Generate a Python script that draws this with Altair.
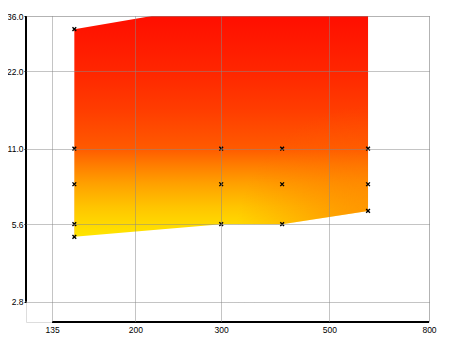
import altair as alt
import pandas as pd

# Axis tick values
x_ticks = [135, 200, 300, 500, 800]
y_ticks = [2.8, 5.6, 11.0, 22.0, 36.0]

# Measured points (x markers)
pt_x = [150, 150, 150, 150, 150, 300, 300, 300, 400, 400, 400, 600, 600, 600]
pt_y = [32, 11, 8, 5.6, 5, 11, 8, 5.6, 11, 8, 5.6, 11, 8, 6.3]

# Outline of the filled surface (lower / upper hull, upper part clipped at 36)
edge_x = [150, 300, 400, 600]
edge_low = [5, 5.6, 5.6, 6.3]
edge_high = [32, 40, 40, 40]

W, H = 403, 306
FONT = "Liberation Sans"

xs = alt.Scale(type="log", domain=[119.4, 800], nice=False)
ys = alt.Scale(type="log", domain=[2.335, 36], nice=False)

pts = pd.DataFrame({"x": pt_x, "y": pt_y})
edge = pd.DataFrame({"x": edge_x, "lo": edge_low, "hi": edge_high})

vgrad = alt.LinearGradient(
    gradient="linear", x1=0, y1=0, x2=0, y2=1,
    stops=[
        alt.GradientStop(color="#FF0A00", offset=0.0),
        alt.GradientStop(color="#FF0E00", offset=0.05),
        alt.GradientStop(color="#FF2600", offset=0.29),
        alt.GradientStop(color="#FF3C00", offset=0.45),
        alt.GradientStop(color="#FF5A00", offset=0.62),
        alt.GradientStop(color="#FF7C00", offset=0.69),
        alt.GradientStop(color="#FFA000", offset=0.77),
        alt.GradientStop(color="#FFC400", offset=0.87),
        alt.GradientStop(color="#FFD800", offset=0.943),
        alt.GradientStop(color="#FFE600", offset=1.0),
    ],
)
rgrad = alt.RadialGradient(
    gradient="radial", x1=1, y1=0.9, r1=0, x2=1, y2=0.9, r2=0.45,
    stops=[
        alt.GradientStop(color="rgba(255,100,0,0.6)", offset=0.0),
        alt.GradientStop(color="rgba(255,100,0,0)", offset=1.0),
    ],
)

common = dict(title=None, grid=True, domain=False, labelFlush=False,
              gridColor="#888888", gridDash=[1, 1], gridWidth=1, gridOpacity=1,
              labelFont=FONT, labelFontSize=8.5, labelColor="black",
              tickColor="black", zindex=1)
base_x = alt.X("x:Q", scale=xs, axis=alt.Axis(
    values=x_ticks, format="d", ticks=False, labelPadding=3, **common))
base_y = alt.Y("lo:Q", scale=ys, axis=alt.Axis(
    values=y_ticks, format=".1f", tickSize=2, labelPadding=1, **common))

area = alt.Chart(edge).mark_area(clip=True, color=vgrad).encode(
    x=base_x, y=base_y, y2="hi:Q")
tint = alt.Chart(edge).mark_area(clip=True, color=rgrad).encode(
    x=alt.X("x:Q", scale=xs), y=alt.Y("lo:Q", scale=ys), y2="hi:Q")

marks = alt.Chart(pts).mark_point(
    shape="M-1,-1L1,1M1,-1L-1,1", filled=False, size=14, strokeWidth=1.4,
    color="black", opacity=1, clip=True
).encode(x=alt.X("x:Q", scale=xs), y=alt.Y("y:Q", scale=ys))

xline = alt.Chart(pd.DataFrame({"a": [x_ticks[0]], "b": [x_ticks[-1]]})).mark_rule(
    color="black", strokeWidth=2
).encode(x=alt.X("a:Q", scale=xs), x2="b:Q", y=alt.value(H))
yline = alt.Chart(pd.DataFrame({"a": [y_ticks[0]], "b": [y_ticks[-1]]})).mark_rule(
    color="black", strokeWidth=2
).encode(y=alt.Y("a:Q", scale=ys), y2="b:Q", x=alt.value(0))

chart = alt.layer(area, tint, marks, xline, yline).properties(
    width=W, height=H,
    autosize=alt.AutoSizeParams(type="none"),
    padding={"left": 18, "top": 8, "right": 13, "bottom": 15},
).configure_view(stroke=None).configure(background="white")

chart.save("out.html", embed_options={"renderer": "svg", "actions": False})
